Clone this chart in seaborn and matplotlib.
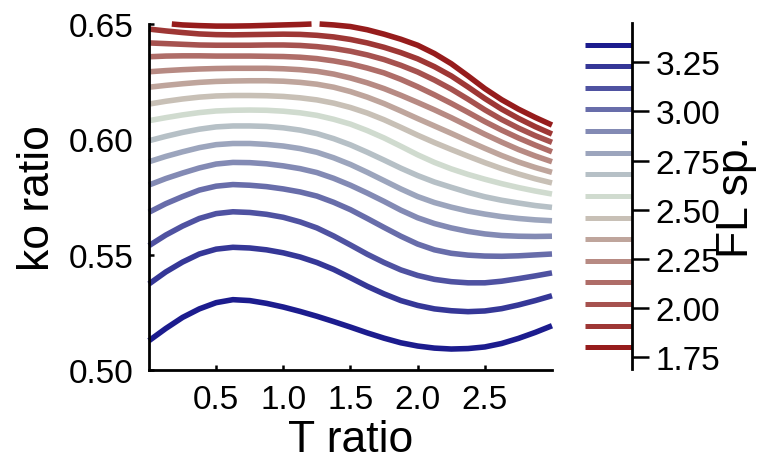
import numpy as np
import pandas as pd
import matplotlib
matplotlib.use('Agg')
import matplotlib.pyplot as plt
import seaborn as sns
from matplotlib.colors import LinearSegmentedColormap, Normalize

# ---------------------
# data
# ---------------------
t_ratio = [0.0, 0.125, 0.25, 0.375, 0.5, 0.625, 0.75, 0.875, 1.0,
           1.125, 1.25, 1.375, 1.5, 1.625, 1.75, 1.875, 2.0,
           2.125, 2.25, 2.375, 2.5, 2.625, 2.75, 2.875, 3.0]
fl_levels = [1.80, 1.91, 2.02, 2.13, 2.24, 2.35, 2.46, 2.57,
             2.68, 2.79, 2.90, 3.01, 3.12, 3.23, 3.34]

# top line (FL 1.80) leaves the plot near T = 1.24, so it comes in two pieces
t_fl180_a = [0.17, 0.25, 0.375, 0.5, 0.625, 0.75, 0.875, 1.0, 1.125, 1.21]
ko_fl180_a = [0.6500, 0.6496, 0.6493, 0.6491, 0.6491, 0.6492, 0.6494, 0.6496, 0.6498, 0.6500]
t_fl180_b = [1.27, 1.375, 1.5, 1.625, 1.75, 1.875, 2.0,
             2.125, 2.25, 2.375, 2.5, 2.625, 2.75, 2.875, 3.0]
ko_fl180_b = [0.6500, 0.6496, 0.6489, 0.6475, 0.6456, 0.6434, 0.6408,
              0.6372, 0.6328, 0.6275, 0.6220, 0.6172, 0.6131, 0.6095, 0.6062]

# ko ratio of the other FL sp. contour lines at the t_ratio points
ko_fl191 = [0.6478, 0.6470, 0.6463, 0.6457, 0.6454, 0.6453, 0.6454, 0.6455, 0.6456,
            0.6455, 0.6451, 0.6444, 0.6433, 0.6418, 0.6399, 0.6376, 0.6349,
            0.6315, 0.6275, 0.6227, 0.6177, 0.6131, 0.6091, 0.6055, 0.6023]
ko_fl202 = [0.6418, 0.6415, 0.6412, 0.6409, 0.6408, 0.6408, 0.6408, 0.6409, 0.6409,
            0.6407, 0.6402, 0.6394, 0.6382, 0.6366, 0.6346, 0.6321, 0.6292,
            0.6257, 0.6218, 0.6174, 0.6128, 0.6086, 0.6049, 0.6016, 0.5987]
ko_fl213 = [0.6358, 0.6361, 0.6362, 0.6362, 0.6361, 0.6361, 0.6361, 0.6360, 0.6359,
            0.6356, 0.6350, 0.6340, 0.6327, 0.6309, 0.6288, 0.6260, 0.6228,
            0.6193, 0.6156, 0.6117, 0.6077, 0.6040, 0.6006, 0.5975, 0.5946]
ko_fl224 = [0.6293, 0.6298, 0.6302, 0.6305, 0.6307, 0.6308, 0.6308, 0.6308, 0.6306,
            0.6302, 0.6295, 0.6283, 0.6266, 0.6245, 0.6220, 0.6191, 0.6160,
            0.6128, 0.6094, 0.6058, 0.6022, 0.5988, 0.5956, 0.5928, 0.5903]
ko_fl235 = [0.6226, 0.6234, 0.6241, 0.6247, 0.6251, 0.6253, 0.6254, 0.6254, 0.6252,
            0.6247, 0.6239, 0.6226, 0.6207, 0.6183, 0.6155, 0.6123, 0.6090,
            0.6058, 0.6026, 0.5993, 0.5961, 0.5930, 0.5902, 0.5878, 0.5857]
ko_fl246 = [0.6153, 0.6165, 0.6175, 0.6183, 0.6188, 0.6190, 0.6190, 0.6189, 0.6186,
            0.6180, 0.6171, 0.6157, 0.6138, 0.6114, 0.6085, 0.6052, 0.6018,
            0.5986, 0.5956, 0.5927, 0.5899, 0.5873, 0.5850, 0.5829, 0.5811]
ko_fl257 = [0.6081, 0.6094, 0.6106, 0.6116, 0.6123, 0.6126, 0.6127, 0.6126, 0.6122,
            0.6115, 0.6104, 0.6087, 0.6066, 0.6038, 0.6006, 0.5970, 0.5933,
            0.5900, 0.5872, 0.5848, 0.5827, 0.5808, 0.5791, 0.5776, 0.5763]
ko_fl268 = [0.5994, 0.6013, 0.6030, 0.6044, 0.6054, 0.6058, 0.6058, 0.6056, 0.6050,
            0.6040, 0.6025, 0.6003, 0.5976, 0.5944, 0.5910, 0.5875, 0.5843,
            0.5815, 0.5792, 0.5770, 0.5751, 0.5736, 0.5724, 0.5713, 0.5705]
ko_fl279 = [0.5903, 0.5926, 0.5946, 0.5964, 0.5977, 0.5982, 0.5982, 0.5978, 0.5971,
            0.5960, 0.5944, 0.5920, 0.5891, 0.5857, 0.5821, 0.5785, 0.5752,
            0.5726, 0.5706, 0.5689, 0.5676, 0.5665, 0.5657, 0.5651, 0.5647]
ko_fl290 = [0.5802, 0.5830, 0.5854, 0.5876, 0.5893, 0.5900, 0.5899, 0.5894, 0.5885,
            0.5873, 0.5856, 0.5831, 0.5801, 0.5767, 0.5731, 0.5693, 0.5660,
            0.5635, 0.5616, 0.5601, 0.5590, 0.5583, 0.5580, 0.5579, 0.5580]
ko_fl301 = [0.5684, 0.5721, 0.5752, 0.5780, 0.5797, 0.5804, 0.5801, 0.5795, 0.5785,
            0.5772, 0.5754, 0.5727, 0.5695, 0.5657, 0.5618, 0.5580, 0.5546,
            0.5521, 0.5506, 0.5498, 0.5494, 0.5493, 0.5495, 0.5499, 0.5503]
ko_fl312 = [0.5539, 0.5585, 0.5624, 0.5657, 0.5678, 0.5686, 0.5683, 0.5675, 0.5662,
            0.5642, 0.5616, 0.5581, 0.5542, 0.5502, 0.5466, 0.5434, 0.5410,
            0.5393, 0.5383, 0.5378, 0.5378, 0.5385, 0.5396, 0.5408, 0.5421]
ko_fl323 = [0.5373, 0.5425, 0.5468, 0.5503, 0.5524, 0.5532, 0.5529, 0.5521, 0.5508,
            0.5490, 0.5466, 0.5436, 0.5400, 0.5363, 0.5330, 0.5301, 0.5280,
            0.5265, 0.5257, 0.5253, 0.5256, 0.5266, 0.5282, 0.5301, 0.5322]
ko_fl334 = [0.5127, 0.5180, 0.5228, 0.5265, 0.5292, 0.5305, 0.5301, 0.5289, 0.5273,
            0.5254, 0.5233, 0.5210, 0.5186, 0.5161, 0.5138, 0.5118, 0.5104,
            0.5095, 0.5091, 0.5093, 0.5100, 0.5115, 0.5137, 0.5163, 0.5192]

x_ticks = [0.5, 1.0, 1.5, 2.0, 2.5]
y_ticks = [0.50, 0.55, 0.60, 0.65]
cbar_ticks = [1.75, 2.00, 2.25, 2.50, 2.75, 3.00, 3.25]

ko_lines = [ko_fl191, ko_fl202, ko_fl213, ko_fl224,
            ko_fl235, ko_fl246, ko_fl257, ko_fl268, ko_fl279,
            ko_fl290, ko_fl301, ko_fl312, ko_fl323, ko_fl334]

# long form table for seaborn, one 'piece' id per drawn line
parts = [
    pd.DataFrame({'T ratio': t_fl180_a, 'ko ratio': ko_fl180_a, 'FL sp.': fl_levels[0], 'piece': 0}),
    pd.DataFrame({'T ratio': t_fl180_b, 'ko ratio': ko_fl180_b, 'FL sp.': fl_levels[0], 'piece': 1}),
]
for i, (lvl, ko) in enumerate(zip(fl_levels[1:], ko_lines)):
    parts.append(pd.DataFrame({'T ratio': t_ratio, 'ko ratio': ko,
                               'FL sp.': lvl, 'piece': i + 2}))
df = pd.concat(parts, ignore_index=True)

# ---------------------
# plot
# ---------------------
sns.set_style('ticks')
plt.rcParams['font.family'] = ['Liberation Sans', 'DejaVu Sans']
plt.rcParams['text.color'] = 'black'
plt.rcParams['axes.labelcolor'] = 'black'
plt.rcParams['axes.edgecolor'] = 'black'

cmap = LinearSegmentedColormap.from_list('fl', ['#961c1c', '#d0dcd0', '#1c1c8e'])
norm = Normalize(fl_levels[0], fl_levels[-1])

fig = plt.figure(figsize=(7.62, 4.64), dpi=100)
ax = fig.add_axes([0.1955, 0.2004, 0.5289, 0.7457])
cax = fig.add_axes([0.7677, 0.2026, 0.0617, 0.7457])

sns.lineplot(data=df, x='T ratio', y='ko ratio', hue='FL sp.',
             units='piece', palette=cmap, hue_norm=norm, estimator=None,
             sort=False, legend=False, linewidth=4.0, ax=ax)
# the top contour sits right on the upper edge, keep its full width;
# flat line ends like contour lines
for line in ax.lines:
    line.set_clip_on(False)
    line.set_solid_capstyle('butt')

ax.set_xlim(0, 3.0)
ax.set_ylim(0.5, 0.65)
ax.set_xticks(x_ticks)
ax.set_xticklabels([f'{v:.1f}' for v in x_ticks])
ax.set_yticks(y_ticks)
ax.set_yticklabels([f'{v:.2f}' for v in y_ticks])
for s in ['top', 'right']:
    ax.spines[s].set_visible(False)
for s in ['left', 'bottom']:
    ax.spines[s].set_linewidth(2)
ax.tick_params(axis='both', direction='in', length=3.6, width=1.8,
               labelsize=24, colors='black')
ax.tick_params(axis='x', pad=10)
ax.tick_params(axis='y', pad=11)
ax.set_xlabel('T ratio', fontsize=32, labelpad=3)
ax.set_ylabel('ko ratio', fontsize=32, labelpad=8)

# colour bar made of the contour line colours
cax.hlines(fl_levels, 0, 1, colors=[cmap(norm(v)) for v in fl_levels], linewidth=3.6)
cax.set_xlim(0, 1)
cax.set_ylim(1.69, 3.45)
cax.set_xticks([])
for s in ['left', 'top', 'bottom']:
    cax.spines[s].set_visible(False)
cax.spines['right'].set_linewidth(2)
cax.yaxis.tick_right()
cax.set_yticks(cbar_ticks)
cax.set_yticklabels([f'{v:.2f}' for v in cbar_ticks])
cax.tick_params(axis='y', direction='out', length=12, width=1.8,
                labelsize=24, pad=5, colors='black')
cax.yaxis.set_label_position('right')
cax.set_ylabel('FL sp.', fontsize=32, labelpad=-3)

plt.savefig('out.png', dpi=100)
